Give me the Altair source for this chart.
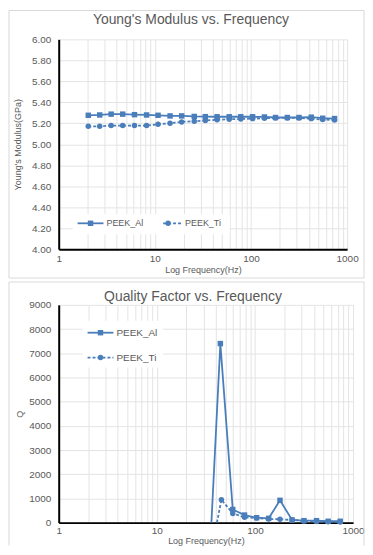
import altair as alt
import pandas as pd

# ---------------- data ----------------
freq = [2.03, 2.67, 3.51, 4.63, 6.14, 8.2, 10.8, 14.4, 19.0, 25.7, 33.5,
        44.4, 59.4, 78.3, 104, 138, 180, 239, 316, 424, 557, 740]
ym_al = [5.276, 5.279, 5.287, 5.287, 5.282, 5.279, 5.276, 5.270, 5.270, 5.265, 5.263,
         5.262, 5.262, 5.262, 5.262, 5.260, 5.255, 5.255, 5.255, 5.258, 5.248, 5.245]
ym_ti = [5.171, 5.171, 5.178, 5.178, 5.178, 5.178, 5.190, 5.200, 5.213, 5.219, 5.226,
         5.233, 5.238, 5.241, 5.244, 5.248, 5.251, 5.251, 5.251, 5.244, 5.235, 5.232]

q_freq_al = [36, 44.4, 59.4, 78.3, 104, 138, 180, 239, 316, 424, 557, 740]
q_al = [0, 7400, 544, 313, 203, 178, 922, 110, 81, 81, 57, 57]
q_freq_ti = [41, 45.5, 59.4, 78.3, 104, 138, 180, 239, 316, 424, 557, 740]
q_ti = [0, 950, 380, 219, 190, 150, 138, 110, 70, 50, 40, 30]

series = ["PEEK_Al", "PEEK_Ti"]
titles = ["Young's Modulus vs. Frequency", "Quality Factor vs. Frequency"]
x_ticks = [1, 2, 3, 4, 5, 6, 7, 8, 9, 10, 20, 30, 40, 50, 60, 70, 80, 90,
           100, 200, 300, 400, 500, 600, 700, 800, 900, 1000]
ym_ticks = [4.0, 4.2, 4.4, 4.6, 4.8, 5.0, 5.2, 5.4, 5.6, 5.8, 6.0]
q_ticks = [0, 1000, 2000, 3000, 4000, 5000, 6000, 7000, 8000, 9000]

# ---------------- styles ----------------
BLUE = "#4a7ebb"
GRAY = "#595959"
GRID = "#e4e4e4"
BOX = "#d9d9d9"
FONT = "Liberation Sans"

label_expr = "indexof([1,10,100,1000], datum.value) >= 0 ? format(datum.value, 'd') : ''"


def x_enc(field, lpad, tpad):
    return alt.X(
        f"{field}:Q",
        scale=alt.Scale(type="log", domain=[1, 1000], nice=False),
        axis=alt.Axis(values=x_ticks, labelExpr=label_expr, ticks=False,
                      labelOverlap=False, labelFlush=False, grid=True,
                      gridColor=GRID, domainColor="black", domainWidth=2,
                      labelColor=GRAY, labelFontSize=10, labelPadding=lpad,
                      title="Log Frequency(Hz)", titleFontSize=9,
                      titleColor=GRAY, titleFontWeight="normal", titlePadding=tpad),
    )


def y_enc(field, domain, ticks, fmt, title, tpad):
    return alt.Y(
        f"{field}:Q",
        scale=alt.Scale(domain=domain, nice=False, zero=False),
        axis=alt.Axis(values=ticks, format=fmt, ticks=False, grid=True,
                      gridColor=GRID, domainColor="black", domainWidth=2,
                      labelColor=GRAY, labelFontSize=10, labelPadding=8,
                      title=title, titleFontSize=9, titleColor=GRAY,
                      titleFontWeight="normal", titlePadding=tpad),
    )


def one():
    return alt.Chart(pd.DataFrame({"s": [0]}))


def box(x0, x1, y0, y1):
    return one().mark_rect(fill="transparent", stroke=BOX, strokeWidth=1).encode(
        x=alt.value(x0), x2=alt.value(x1), y=alt.value(y0), y2=alt.value(y1))


def open_box(x0, x1, y0, y1):
    rule = lambda **e: one().mark_rule(color=BOX, strokeWidth=1).encode(**e)
    return [
        rule(x=alt.value(x0), y=alt.value(y0), y2=alt.value(y1)),
        rule(x=alt.value(x1), y=alt.value(y0), y2=alt.value(y1)),
        rule(x=alt.value(x0), x2=alt.value(x1), y=alt.value(y0)),
    ]


def white(x0, x1, y0, y1):
    return one().mark_rect(fill="white").encode(
        x=alt.value(x0), x2=alt.value(x1), y=alt.value(y0), y2=alt.value(y1))


def title_text(text, x, y):
    return alt.Chart(pd.DataFrame({"t": [text]})).mark_text(
        align="center", baseline="alphabetic", fontSize=14, color=GRAY, font=FONT
    ).encode(x=alt.value(x), y=alt.value(y), text="t:N")


def legend_entry(name, x0, x1, y, mx, tx, shape, dashed, fs):
    base = alt.Chart(pd.DataFrame({"s": [name]}))
    kw = {"strokeDash": [3, 2]} if dashed else {}
    line = base.mark_rule(color=BLUE, strokeWidth=1.8, **kw).encode(
        x=alt.value(x0), x2=alt.value(x1), y=alt.value(y))
    pt = base.mark_point(shape=shape, filled=True, size=30, color=BLUE, opacity=1).encode(
        x=alt.value(mx), y=alt.value(y))
    txt = base.mark_text(align="left", baseline="middle", fontSize=fs, color=GRAY,
                         font=FONT).encode(x=alt.value(tx), y=alt.value(y), text="s:N")
    return [line, pt, txt]


# ---------------- top chart ----------------
df_top = pd.DataFrame({"f": freq, "al": ym_al, "ti": ym_ti})
bt = alt.Chart(df_top)
xt = x_enc("f", 4, 2)
yt_al = y_enc("al", [4, 6], ym_ticks, ".2f", "Young's Modulus(GPa)", 9)
yt_ti = y_enc("ti", [4, 6], ym_ticks, ".2f", "Young's Modulus(GPa)", 9)

top_layers = [
    box(-50, 307, -29, 240),
    title_text(titles[0], 133, -15),
    white(14, 172, 176, 196),
    bt.mark_line(color=BLUE, strokeWidth=1.8, strokeDash=[3, 2]).encode(x=xt, y=yt_ti),
    bt.mark_point(shape="circle", filled=True, size=30, color=BLUE, opacity=1).encode(x=xt, y=yt_ti),
    bt.mark_line(color=BLUE, strokeWidth=1.8).encode(x=xt, y=yt_al),
    bt.mark_point(shape="square", filled=True, size=30, color=BLUE, opacity=1).encode(x=xt, y=yt_al),
]
top_layers += legend_entry(series[0], 19, 45, 185, 32, 48, "square", False, 9)
top_layers += legend_entry(series[1], 105, 124, 185, 110, 127, "circle", True, 9)

top = alt.layer(*top_layers).properties(width=290, height=211)

# ---------------- bottom chart ----------------
df_al = pd.DataFrame({"f": q_freq_al, "q": q_al})
df_ti = pd.DataFrame({"f": q_freq_ti, "q": q_ti})
xb = x_enc("f", 3, 1)
yb = y_enc("q", [0, 9000], q_ticks, "d", "Q", 4)

bot_layers = open_box(-50, 307, -23, 242) + [
    title_text(titles[1], 135, -4),
    white(24, 105, 16, 63),
    alt.Chart(df_ti).mark_line(color=BLUE, strokeWidth=1.8, strokeDash=[3, 2]).encode(x=xb, y=yb),
    alt.Chart(df_ti).transform_filter("datum.q > 0").mark_point(
        shape="circle", filled=True, size=30, color=BLUE, opacity=1).encode(x=xb, y=yb),
    alt.Chart(df_al).mark_line(color=BLUE, strokeWidth=1.8).encode(x=xb, y=yb),
    alt.Chart(df_al).transform_filter("datum.q > 0").mark_point(
        shape="square", filled=True, size=30, color=BLUE, opacity=1).encode(x=xb, y=yb),
]
bot_layers += legend_entry(series[0], 29, 55, 28, 42, 58, "square", False, 10)
bot_layers += legend_entry(series[1], 29, 55, 53, 42, 58, "circle", True, 10)

bottom = alt.layer(*bot_layers).properties(width=296, height=219)

chart = alt.vconcat(top, bottom, spacing=2).properties(padding=0).configure(
    font=FONT
).configure_view(stroke="transparent").configure_axis(
    labelFont=FONT, titleFont=FONT
)

chart.save("out.html", embed_options={"renderer": "svg", "actions": False})
